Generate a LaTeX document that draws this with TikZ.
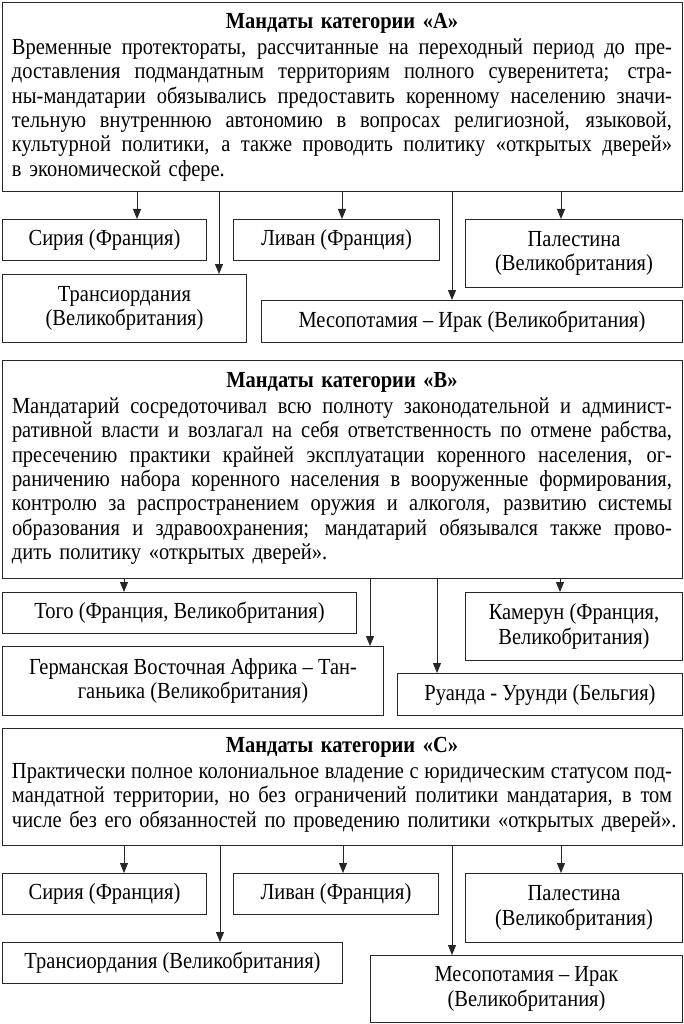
\documentclass[tikz,border=0pt]{standalone}
\usepackage{fontspec}
\setmainfont{Liberation Serif}[FakeStretch=0.89]
\usetikzlibrary{arrows.meta}
\newcommand{\fs}{\fontsize{23}{24.3}\selectfont}
\newlength{\tw}\setlength{\tw}{660pt}
\newcommand{\jl}[1]{\hbox to\tw{\spaceskip=0.25em plus 3em minus 0.06em\relax #1}}
\newcommand{\lastln}[1]{\hbox to\tw{#1\hfil}}
\newcommand{\ttl}[1]{\hbox to\tw{\hfil\bfseries\strut #1\hfil}\vskip2pt}
\tikzset{
  box/.style={draw=black!85, line width=1pt, inner sep=0pt, anchor=north west, align=center, font=\fs},
  arr/.style={draw=black!85, line width=1pt, -{Triangle[length=10pt,width=8pt]}},
  btext/.style={anchor=north, inner sep=0pt, text width=660pt, font=\fs},
}
\newcommand{\bx}[6]{\node[box, minimum width={(#4-#2)*1pt}, minimum height={(#5-#3)*1pt}] (#1) at (#2,#3) {#6};}
\begin{document}
\begin{tikzpicture}[x=1pt,y=-1pt]
\useasboundingbox[fill=white] (0,0) rectangle (684,1024);
% ---------- A ----------
\bx{A}{2}{2}{682}{191}{}
\node[btext] (At) at (342,11) {%
\ttl{Мандаты категории «А»}
\jl{Временные протектораты, рассчитанные на переходный период до пре-}
\jl{доставления подмандатным территориям полного суверенитета; стра-}
\jl{ны-мандатарии обязывались предоставить коренному населению значи-}
\jl{тельную внутреннюю автономию в вопросах религиозной, языковой,}
\jl{культурной политики, а также проводить политику «открытых дверей»}
\lastln{в экономической сфере.}};
\bx{a1}{2}{219}{206}{260}{Сирия (Франция)}
\bx{a2}{233}{219}{439}{260}{Ливан (Франция)}
\bx{a3}{465}{219}{682}{287}{Палестина\\(Великобритания)}
\bx{a4}{2}{274}{246}{342}{Трансиордания\\(Великобритания)}
\bx{a5}{261}{300}{682}{342}{Месопотамия – Ирак (Великобритания)}
\coordinate (xa1) at (137,0);
\coordinate (xa2) at (342,0);
\coordinate (xa3) at (561,0);
\coordinate (xa4) at (219,0);
\coordinate (xa5) at (452,0);
\foreach \i in {1,...,5} {\draw[arr] (A.south -| xa\i) -- (a\i.north -| xa\i);}
% ---------- B ----------
\bx{B}{2}{360}{682}{578}{}
\node[btext] (Bt) at (342,370) {%
\ttl{Мандаты категории «В»}
\jl{Мандатарий сосредоточивал всю полноту законодательной и админист-}
\jl{ративной власти и возлагал на себя ответственность по отмене рабства,}
\jl{пресечению практики крайней эксплуатации коренного населения, ог-}
\jl{раничению набора коренного населения в вооруженные формирования,}
\jl{контролю за распространением оружия и алкоголя, развитию системы}
\jl{образования и здравоохранения; мандатарий обязывался также прово-}
\lastln{дить политику «открытых дверей».}};
\bx{b1}{2}{592}{356}{633}{Того (Франция, Великобритания)}
\bx{b2}{465}{592}{682}{660}{Камерун (Франция,\\Великобритания)}
\bx{b3}{2}{646}{383}{715}{Германская Восточная Африка – Тан-\\ганьика (Великобритания)}
\bx{b4}{397}{673}{682}{715}{Руанда - Урунди (Бельгия)}
\coordinate (xb1) at (124,0);
\coordinate (xb2) at (560,0);
\coordinate (xb3) at (370,0);
\coordinate (xb4) at (437,0);
\foreach \i in {1,...,4} {\draw[arr] (B.south -| xb\i) -- (b\i.north -| xb\i);}
% ---------- C ----------
\bx{C}{2}{728}{682}{845}{}
\node[btext] (Ct) at (342,735) {%
\ttl{Мандаты категории «С»}
\jl{Практически полное колониальное владение с юридическим статусом под-}
\jl{мандатной территории, но без ограничений политики мандатария, в том}
\lastln{числе без его обязанностей по проведению политики «открытых дверей».}};
\bx{c1}{2}{873}{206}{914}{Сирия (Франция)}
\bx{c2}{233}{873}{438}{914}{Ливан (Франция)}
\bx{c3}{465}{873}{682}{942}{Палестина\\(Великобритания)}
\bx{c4}{2}{942}{342}{983}{Трансиордания (Великобритания)}
\bx{c5}{370}{955}{682}{1022}{Месопотамия – Ирак\\(Великобритания)}
\coordinate (xc1) at (124,0);
\coordinate (xc2) at (343,0);
\coordinate (xc3) at (561,0);
\coordinate (xc4) at (220,0);
\coordinate (xc5) at (452,0);
\foreach \i in {1,...,5} {\draw[arr] (C.south -| xc\i) -- (c\i.north -| xc\i);}
\end{tikzpicture}
\end{document}
